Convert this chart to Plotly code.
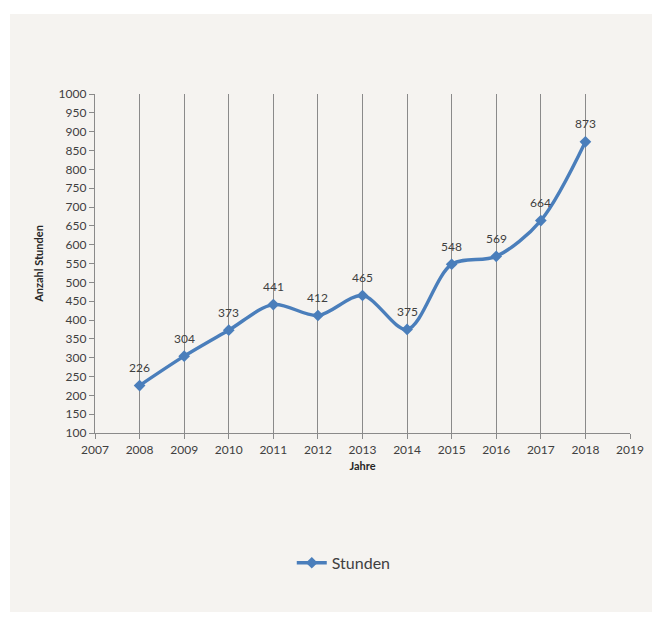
import plotly.graph_objects as go

years = [2008, 2009, 2010, 2011, 2012, 2013, 2014, 2015, 2016, 2017, 2018]
stunden = [226, 304, 373, 441, 412, 465, 375, 548, 569, 664, 873]
series_name = "Stunden"
y_title = "Anzahl Stunden"
x_title = "Jahre"

blue = "#4a7ebb"
font_fam = "Lato, 'Open Sans', sans-serif"

L, R, T, B = 87, 30, 86, 188
W, H = 652, 613
pw, ph = W - L - R, H - T - B

fig = go.Figure()
fig.add_trace(go.Scatter(
    x=years, y=stunden, name=series_name,
    mode="lines+markers",
    line=dict(color=blue, width=3.4, shape="spline", smoothing=0.9),
    marker=dict(symbol="diamond", size=9, color=blue),
    cliponaxis=False,
))

for xv, yv in zip(years, stunden):
    fig.add_annotation(x=xv, y=yv, text=str(yv), showarrow=False, yshift=18,
                       font=dict(size=12, color="#404040", family=font_fam))

fig.update_layout(
    width=W, height=H,
    paper_bgcolor="white",
    plot_bgcolor="rgba(0,0,0,0)",
    margin=dict(l=L, r=R, t=T, b=B),
    font=dict(family=font_fam, size=12, color="#404040"),
    showlegend=True,
    legend=dict(orientation="h", x=0.465, xanchor="center", y=-0.383, yanchor="middle",
                font=dict(size=16, color="#404040", family=font_fam),
                bgcolor="rgba(0,0,0,0)"),
    xaxis=dict(
        range=[2007, 2019], tickmode="linear", tick0=2007, dtick=1,
        showgrid=True, gridcolor="#8a8a8a", gridwidth=1.3,
        showline=True, linecolor="#8a8a8a", linewidth=1.3,
        ticks="outside", ticklen=5, tickcolor="#8a8a8a",
        zeroline=False,
        title=dict(text="<b>" + x_title + "</b>", font=dict(size=11, color="#262626"), standoff=6),
        tickfont=dict(size=12, color="#404040"),
    ),
    yaxis=dict(
        range=[100, 1000], tickmode="linear", tick0=100, dtick=50,
        showgrid=False,
        showline=True, linecolor="#8a8a8a", linewidth=1.3,
        ticks="outside", ticklen=5, tickcolor="#8a8a8a",
        zeroline=False,
        title=dict(text="<b>" + y_title + "</b>", font=dict(size=11, color="#262626"), standoff=12),
        tickfont=dict(size=12, color="#404040"),
    ),
    shapes=[
        dict(type="rect", xref="paper", yref="paper", layer="below",
             x0=(2 - L) / pw, x1=(647 - L) / pw,
             y0=-(604 - (T + ph)) / ph, y1=1 + (T - 6) / ph,
             fillcolor="#f5f3f0", line=dict(width=0)),
    ],
)

fig.write_html("out.html")
